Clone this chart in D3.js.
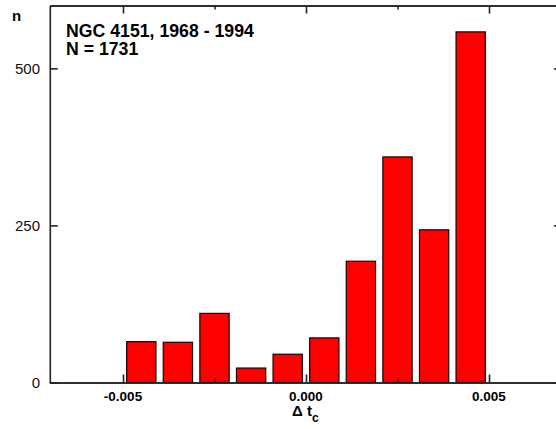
<!DOCTYPE html>
<html><head><meta charset="utf-8">
<script src="https://cdn.jsdelivr.net/npm/d3@7"></script>
<style>
html,body{margin:0;padding:0;background:#fff;overflow:hidden}
svg{display:block}
text{font-family:"Liberation Sans",Arial,sans-serif;}
</style></head>
<body>
<svg id="c" width="556" height="429"></svg>
<script>
// Data
const binCenters = [-0.0045,-0.0035,-0.0025,-0.0015,-0.0005,0.0005,0.0015,0.0025,0.0035,0.0045];
const counts = [65,64,110,23,45,71,193,359,243,558];
const xMajorTicks = [-0.005, 0.000, 0.005];
const xMinorTicks = [-0.0025, 0.0025];
const xTickLabels = ["-0.005","0.000","0.005"];
const yTicks = [0,250,500];
const yTickLabels = ["0","250","500"];
const titleLines = ["NGC 4151, 1968 - 1994","N = 1731"];
const binWidth = 0.0008;

const svg = d3.select("#c");
const pLeft = 49.8, pRight = 562.2, pTop = 5.5, pBottom = 382.5;
const x = d3.scaleLinear().domain([-0.007,0.007]).range([pLeft,pRight]);
const y = d3.scaleLinear().domain([0,600]).range([pBottom,pTop]);
const axisColor = "#222";

// bars
svg.append("g").selectAll("rect").data(binCenters).join("rect")
  .attr("x",(d)=>x(d-binWidth/2))
  .attr("width",(d)=>x(d+binWidth/2)-x(d-binWidth/2))
  .attr("y",(d,i)=>y(counts[i]))
  .attr("height",(d,i)=>y(0)-y(counts[i]))
  .attr("fill","#ff0000")
  .attr("stroke","#1a0000")
  .attr("stroke-width",1.2);

function styleAxis(g){
  g.select(".domain").attr("stroke",axisColor).attr("stroke-width",1.6);
  g.selectAll(".tick line").attr("stroke",axisColor).attr("stroke-width",1.6);
  g.selectAll(".tick text").remove();
}
// bottom axis
svg.append("g").attr("transform",`translate(0,${pBottom})`)
  .call(d3.axisBottom(x).tickValues(xMajorTicks).tickSizeInner(-8).tickSizeOuter(0).tickFormat(""))
  .call(styleAxis);
svg.append("g").attr("transform",`translate(0,${pBottom})`)
  .call(d3.axisBottom(x).tickValues(xMinorTicks).tickSizeInner(-4).tickSizeOuter(0).tickFormat(""))
  .call(styleAxis);
// top axis
svg.append("g").attr("transform",`translate(0,${pTop})`)
  .call(d3.axisTop(x).tickValues(xMajorTicks).tickSizeInner(-8).tickSizeOuter(0).tickFormat(""))
  .call(styleAxis);
svg.append("g").attr("transform",`translate(0,${pTop})`)
  .call(d3.axisTop(x).tickValues(xMinorTicks).tickSizeInner(-4).tickSizeOuter(0).tickFormat(""))
  .call(styleAxis);
// left axis
svg.append("g").attr("transform",`translate(${pLeft},0)`)
  .call(d3.axisLeft(y).tickValues(yTicks).tickSizeInner(-8).tickSizeOuter(0).tickFormat(""))
  .call(styleAxis);
// right axis
svg.append("g").attr("transform",`translate(${pRight},0)`)
  .call(d3.axisRight(y).tickValues(yTicks).tickSizeInner(-8).tickSizeOuter(0).tickFormat(""))
  .call(styleAxis);

// x tick labels
svg.append("g").selectAll("text").data(xMajorTicks).join("text")
  .attr("x",d=>x(d)).attr("y",400.5)
  .attr("text-anchor","middle").attr("font-weight","bold").attr("font-size","13.5px")
  .attr("fill","#000")
  .text((d,i)=>xTickLabels[i]);
// y tick labels
svg.append("g").selectAll("text").data(yTicks).join("text")
  .attr("x",40).attr("y",d=>y(d)+5.5)
  .attr("text-anchor","end").attr("font-size","15px").attr("fill","#111")
  .text((d,i)=>yTickLabels[i]);

// axis titles
svg.append("text").attr("x",12).attr("y",21).attr("font-weight","bold").attr("font-size","15px").text("n");
const xt = svg.append("text").attr("x",292).attr("y",416).attr("font-weight","bold").attr("font-size","15px");
xt.append("tspan").text("Δ t");
xt.append("tspan").attr("font-size","12px").attr("dy",6).text("c");

// title
svg.append("g").selectAll("text").data(titleLines).join("text")
  .attr("x",66).attr("y",(d,i)=>37.3+i*17.8)
  .attr("font-weight","bold").attr("font-size","17.7px").attr("fill","#000")
  .text(d=>d);
</script>
</body></html>
